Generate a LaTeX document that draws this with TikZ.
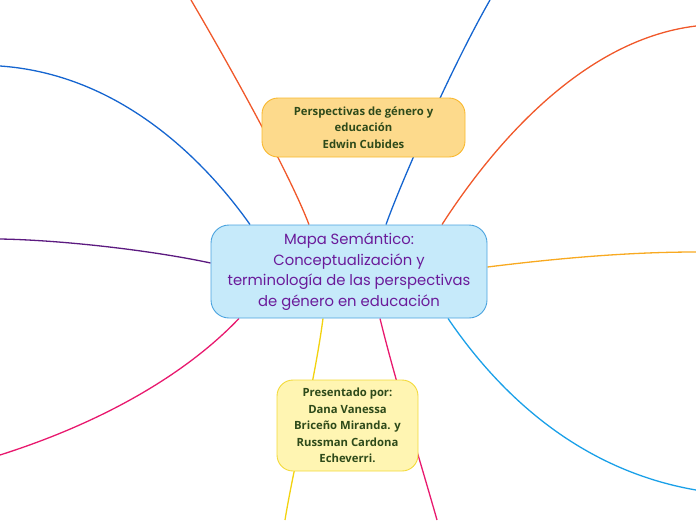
\documentclass[tikz,border=0pt]{standalone}
\usepackage{fontspec}
\newfontfamily\mainfont{Poppins}
\newfontfamily\subfont{Open Sans}
\usetikzlibrary{backgrounds}

\definecolor{mainfill}{HTML}{C6EAFA}
\definecolor{maindraw}{HTML}{4AA3DF}
\definecolor{maintext}{HTML}{6A1B9A}
\definecolor{topfill}{HTML}{FDDA8C}
\definecolor{topdraw}{HTML}{F9B82E}
\definecolor{botfill}{HTML}{FFF5B2}
\definecolor{botdraw}{HTML}{F3DA3A}
\definecolor{subtext}{HTML}{2E4A1A}
\definecolor{cred}{HTML}{F0582A}
\definecolor{cblue}{HTML}{1565D0}
\definecolor{corange}{HTML}{F8A920}
\definecolor{csky}{HTML}{1AA0E8}
\definecolor{cpink}{HTML}{E8196E}
\definecolor{cpurple}{HTML}{5C1A80}
\definecolor{cyellow}{HTML}{F2D20F}

\begin{document}
\begin{tikzpicture}[x=1pt, y=-1pt,
  topic/.style={draw=maindraw, fill=mainfill, line width=0.9pt, rounded corners=18pt,
    align=center, text=maintext, font=\mainfont\fontsize{14.8}{20.5}\selectfont,
    minimum width=276pt, minimum height=93pt, inner sep=0pt},
  note/.style={line width=0.9pt, rounded corners=16pt, align=center, text=subtext,
    font=\subfont\bfseries\fontsize{11.3}{16.4}\selectfont, inner sep=0pt},
  branch/.style={line width=1.3pt}]
  \useasboundingbox (0,0) rectangle (696,520);

  \node[topic] (main) at (349,271.5)
    {Mapa Semántico:\\Conceptualización y\\terminología de las perspectivas\\de género en educación};
  \node[note, draw=topdraw, fill=topfill, minimum width=203pt, minimum height=59pt] (autor) at (363.5,127.5)
    {Perspectivas de género y\\educación\\Edwin Cubides};
  \node[note, draw=botdraw, fill=botfill, minimum width=141pt, minimum height=91pt] (alumnos) at (347.5,425.5)
    {Presentado por:\\Dana Vanessa\\Briceño Miranda. y\\Russman Cardona\\Echeverri.};

  % extremos fuera del cuadro
  \coordinate (e1) at (191,0);
  \coordinate (e2) at (490,0);
  \coordinate (e3) at (696,26);
  \coordinate (e4) at (0,66);
  \coordinate (e5) at (0,239);
  \coordinate (e6) at (0,455);
  \coordinate (e7) at (696,252);
  \coordinate (e8) at (696,490);
  \coordinate (e9) at (285,520);
  \coordinate (e10) at (437,520);

  \begin{scope}[on background layer]
    \draw[branch, cred] ([xshift=-40pt]main.north) .. controls (290,175) and (235,75) .. (e1);
    \draw[branch, cblue] ([xshift=37pt]main.north) .. controls (400,185) and (450,70) .. (e2);
    \draw[branch, cred] ([xshift=93pt]main.north) .. controls (490,150) and (580,40) .. (e3);
    \draw[branch, cblue] ([xshift=-99pt]main.north) .. controls (215,175) and (130,75) .. (e4);
    \draw[branch, cpurple] ([yshift=8.5pt]main.west) .. controls (150,250) and (60,240) .. (e5);
    \draw[branch, cpink] ([xshift=-110pt]main.south) .. controls (190,370) and (110,420) .. (e6);
    \draw[branch, corange] ([yshift=4.5pt]main.east) .. controls (560,258) and (630,252) .. (e7);
    \draw[branch, csky] ([xshift=99pt]main.south) .. controls (500,395) and (580,470) .. (e8);
    \draw[branch, cyellow] ([xshift=-26pt]main.south) .. controls (315,380) and (293,470) .. (e9);
    \draw[branch, cpink] ([xshift=31pt]main.south) .. controls (395,380) and (420,460) .. (e10);
  \end{scope}
\end{tikzpicture}
\end{document}
